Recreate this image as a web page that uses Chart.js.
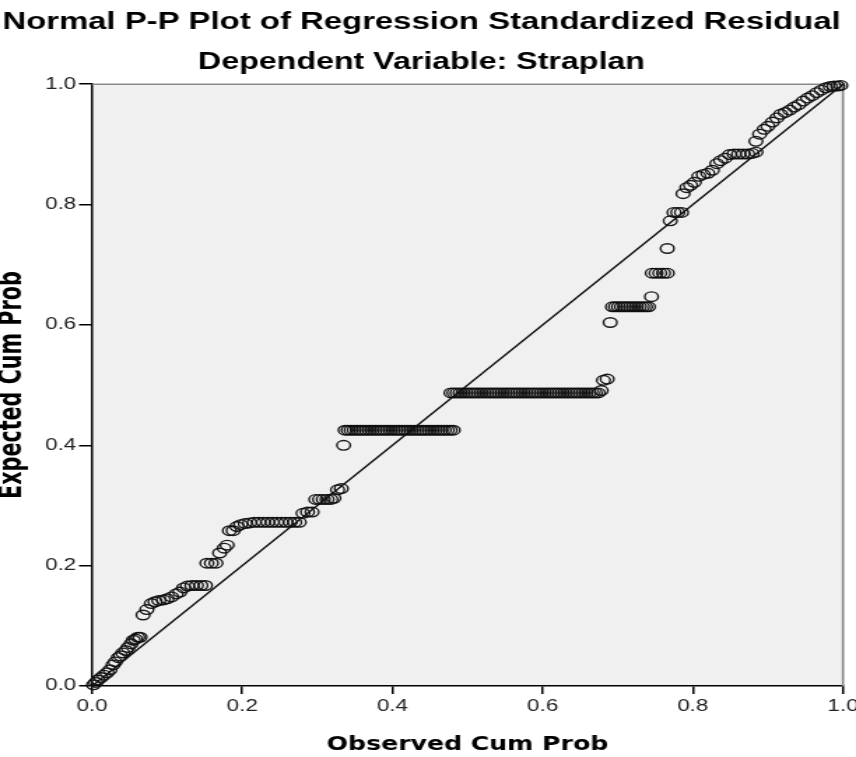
<!DOCTYPE html>
<html>
<head>
<meta charset="utf-8">
<script src="https://cdn.jsdelivr.net/npm/chart.js@4.4.1/dist/chart.umd.min.js"></script>
<style>
  html, body { margin: 0; padding: 0; background: #fff; }
  #marco { width: 612px; height: 757px; transform: scaleX(1.3987); transform-origin: 0 0; }
</style>
</head>
<body>
<div id="marco"><canvas id="graficoPP" width="612" height="757"></canvas></div>
<script>
// DATA (observed vs expected cumulative probability)
const obsCum = [
  0.002, 0.005, 0.008, 0.012, 0.016, 0.020, 0.024, 0.028, 0.031, 0.035, 0.038, 0.041, 0.045, 0.048, 0.052, 0.055, 0.058, 0.061, 0.064,
  0.068, 0.073, 0.079, 0.084, 0.089, 0.095, 0.100, 0.106, 0.112, 0.117, 0.122, 0.127, 0.133, 0.139, 0.145, 0.151,
  0.153, 0.159, 0.165, 0.170, 0.176, 0.180, 0.183, 0.188, 0.193,
  0.198, 0.204, 0.210, 0.216, 0.222, 0.228, 0.234, 0.240, 0.246, 0.252, 0.258, 0.264, 0.270, 0.276,
  0.281, 0.287, 0.293,
  0.298, 0.303, 0.308, 0.313, 0.318, 0.322,
  0.327, 0.332,
  0.335,
  0.337, 0.341, 0.345, 0.349, 0.353, 0.357, 0.361, 0.365, 0.369, 0.373,
  0.377, 0.381, 0.385, 0.389, 0.393, 0.397, 0.401, 0.405, 0.409, 0.413,
  0.417, 0.421, 0.425, 0.429, 0.433, 0.437, 0.441, 0.445, 0.449, 0.453,
  0.457, 0.461, 0.465, 0.469, 0.473, 0.477, 0.481,
  0.478, 0.482, 0.486, 0.490, 0.494, 0.498, 0.502, 0.506, 0.510, 0.514,
  0.518, 0.522, 0.526, 0.530, 0.534, 0.538, 0.542, 0.546, 0.550, 0.554,
  0.558, 0.562, 0.566, 0.570, 0.574, 0.578, 0.582, 0.586, 0.590, 0.594,
  0.598, 0.602, 0.606, 0.610, 0.614, 0.618, 0.622, 0.626, 0.630, 0.634,
  0.638, 0.642, 0.646, 0.650, 0.654, 0.658, 0.662, 0.666, 0.670, 0.674,
  0.678, 0.681, 0.686,
  0.690,
  0.693, 0.697, 0.701, 0.705, 0.709, 0.713, 0.717, 0.721, 0.725, 0.729, 0.733, 0.737, 0.741,
  0.745,
  0.746, 0.751, 0.756, 0.761, 0.766,
  0.766, 0.770,
  0.775, 0.780, 0.785,
  0.787, 0.792, 0.797, 0.802, 0.808, 0.814, 0.820, 0.826, 0.832, 0.837, 0.843, 0.849, 0.855, 0.861, 0.867, 0.873, 0.879, 0.884,
  0.884, 0.889, 0.895, 0.900, 0.906, 0.912, 0.917, 0.923, 0.929, 0.935, 0.941, 0.947, 0.953, 0.959, 0.965, 0.971, 0.977, 0.983, 0.988, 0.993, 0.997
];
const expCum = [
  0.002, 0.006, 0.010, 0.014, 0.018, 0.022, 0.027, 0.035, 0.040, 0.047, 0.050, 0.055, 0.059, 0.064, 0.070, 0.076, 0.078, 0.081, 0.081,
  0.118, 0.127, 0.137, 0.140, 0.142, 0.143, 0.145, 0.148, 0.153, 0.156, 0.163, 0.166, 0.167, 0.167, 0.167, 0.167,
  0.204, 0.204, 0.204, 0.221, 0.229, 0.234, 0.258, 0.258, 0.265,
  0.268, 0.270, 0.271, 0.272, 0.272, 0.272, 0.272, 0.272, 0.272, 0.272, 0.272, 0.272, 0.272, 0.272,
  0.287, 0.289, 0.289,
  0.310, 0.310, 0.310, 0.310, 0.310, 0.312,
  0.326, 0.328,
  0.400,
  0.425, 0.425, 0.425, 0.425, 0.425, 0.425, 0.425, 0.425, 0.425, 0.425,
  0.425, 0.425, 0.425, 0.425, 0.425, 0.425, 0.425, 0.425, 0.425, 0.425,
  0.425, 0.425, 0.425, 0.425, 0.425, 0.425, 0.425, 0.425, 0.425, 0.425,
  0.425, 0.425, 0.425, 0.425, 0.425, 0.425, 0.425,
  0.487, 0.487, 0.487, 0.487, 0.487, 0.487, 0.487, 0.487, 0.487, 0.487,
  0.487, 0.487, 0.487, 0.487, 0.487, 0.487, 0.487, 0.487, 0.487, 0.487,
  0.487, 0.487, 0.487, 0.487, 0.487, 0.487, 0.487, 0.487, 0.487, 0.487,
  0.487, 0.487, 0.487, 0.487, 0.487, 0.487, 0.487, 0.487, 0.487, 0.487,
  0.487, 0.487, 0.487, 0.487, 0.487, 0.487, 0.487, 0.487, 0.487, 0.487,
  0.491, 0.508, 0.510,
  0.604,
  0.630, 0.630, 0.630, 0.630, 0.630, 0.630, 0.630, 0.630, 0.630, 0.630, 0.630, 0.630, 0.630,
  0.647,
  0.686, 0.686, 0.686, 0.686, 0.686,
  0.727, 0.773,
  0.787, 0.787, 0.787,
  0.818, 0.828, 0.832, 0.837, 0.847, 0.850, 0.852, 0.857, 0.868, 0.873, 0.877, 0.883, 0.884, 0.884, 0.884, 0.884, 0.885, 0.887,
  0.905, 0.917, 0.925, 0.930, 0.937, 0.944, 0.950, 0.953, 0.957, 0.962, 0.966, 0.972, 0.977, 0.981, 0.986, 0.990, 0.994, 0.996, 0.997, 0.997, 0.998
];
const diagX = [0, 1];
const diagY = [0, 1];
const tickVals = [0, 0.2, 0.4, 0.6, 0.8, 1.0];
const tickLabels = ['0.0', '0.2', '0.4', '0.6', '0.8', '1.0'];

// the reference is stretched horizontally, so the canvas is drawn narrow and scaled by CSS
const STRETCH = 856 / 612;
const FAMILIA = "'Liberation Sans', Arial, sans-serif";
const FAMILIA_NARROW = "'Liberation Sans Narrow', 'Arial Narrow', 'DejaVu Sans Condensed', sans-serif";

// PLOT BACKGROUND + TOP/RIGHT FRAME
const fondoPlot = {
  id: 'fondoPlot',
  beforeDraw(chart) {
    const { ctx, chartArea: a } = chart;
    ctx.save();
    ctx.fillStyle = '#f0f0f0';
    ctx.fillRect(a.left, a.top, a.right - a.left, a.bottom - a.top);
    ctx.restore();
  },
  beforeDatasetsDraw(chart) {
    const { ctx, chartArea: a } = chart;
    ctx.save();
    ctx.strokeStyle = '#8a8a8a';
    ctx.lineWidth = 1.6;
    ctx.beginPath();
    ctx.moveTo(a.left, a.top);
    ctx.lineTo(a.right, a.top);
    ctx.lineTo(a.right, a.bottom);
    ctx.stroke();
    ctx.restore();
  }
};

const fijarTicks = scale => {
  scale.ticks = tickVals.map(v => ({ value: v }));
};

new Chart(document.getElementById('graficoPP'), {
  type: 'scatter',
  data: {
    datasets: [
      {
        label: 'diagonal',
        data: diagX.map((x, i) => ({ x, y: diagY[i] })),
        showLine: true,
        borderColor: '#111',
        borderWidth: 1.4,
        pointRadius: 0,
        clip: false
      },
      {
        label: 'residuals',
        data: obsCum.map((x, i) => ({ x, y: expCum[i] })),
        pointStyle: 'circle',
        pointRadius: 4.8,
        borderWidth: 1.4,
        borderColor: 'rgba(15,15,15,0.95)',
        backgroundColor: 'rgba(0,0,0,0)',
        clip: false
      }
    ]
  },
  options: {
    responsive: false,
    animation: false,
    devicePixelRatio: 1,
    events: [],
    layout: { padding: { left: 0, right: 612 - 843 / STRETCH, top: 0, bottom: 0 } },
    plugins: {
      legend: { display: false },
      tooltip: { enabled: false },
      title: {
        display: true,
        text: 'Normal P-P Plot of Regression Standardized Residual',
        color: '#000',
        font: { family: FAMILIA, size: 23.5, weight: 'bold', lineHeight: 1.2 },
        padding: { top: 8, bottom: 12.3 }
      },
      subtitle: {
        display: true,
        text: 'Dependent Variable: Straplan',
        color: '#000',
        font: { family: FAMILIA, size: 23, weight: 'bold', lineHeight: 1.2 },
        padding: { top: 0, bottom: 8.1 }
      }
    },
    scales: {
      x: {
        type: 'linear',
        min: 0,
        max: 1,
        afterBuildTicks: fijarTicks,
        afterFit: s => { s.height = 757 - 686; s.paddingLeft = 0; s.paddingRight = 0; },
        border: { display: true, color: '#000', width: 1.5 },
        grid: { drawOnChartArea: false, drawTicks: true, tickLength: 8, color: '#000', lineWidth: 1.5 },
        ticks: {
          autoSkip: false,
          maxRotation: 0,
          padding: 3,
          color: '#222',
          font: { family: FAMILIA, size: 16 },
          callback: (v, i) => tickLabels[i]
        },
        title: {
          display: true,
          text: 'Observed Cum Prob',
          color: '#000',
          font: { family: FAMILIA_NARROW, size: 20, weight: 'bold', lineHeight: 1 },
          padding: { top: 0, bottom: 2 }
        }
      },
      y: {
        type: 'linear',
        min: 0,
        max: 1,
        afterBuildTicks: fijarTicks,
        afterFit: s => { s.width = 92 / STRETCH; },
        border: { display: true, color: '#000', width: 1.5 },
        grid: { drawOnChartArea: false, drawTicks: true, tickLength: 9.3, color: '#000', lineWidth: 1.5 },
        ticks: {
          autoSkip: false,
          padding: 2,
          color: '#222',
          font: { family: FAMILIA, size: 16 },
          callback: (v, i) => tickLabels[i]
        },
        title: {
          display: true,
          text: 'Expected Cum Prob',
          color: '#000',
          font: { family: FAMILIA_NARROW, size: 23, weight: 'bold', lineHeight: 0.75 },
          padding: 0
        }
      }
    }
  },
  plugins: [fondoPlot]
});
</script>
</body>
</html>
